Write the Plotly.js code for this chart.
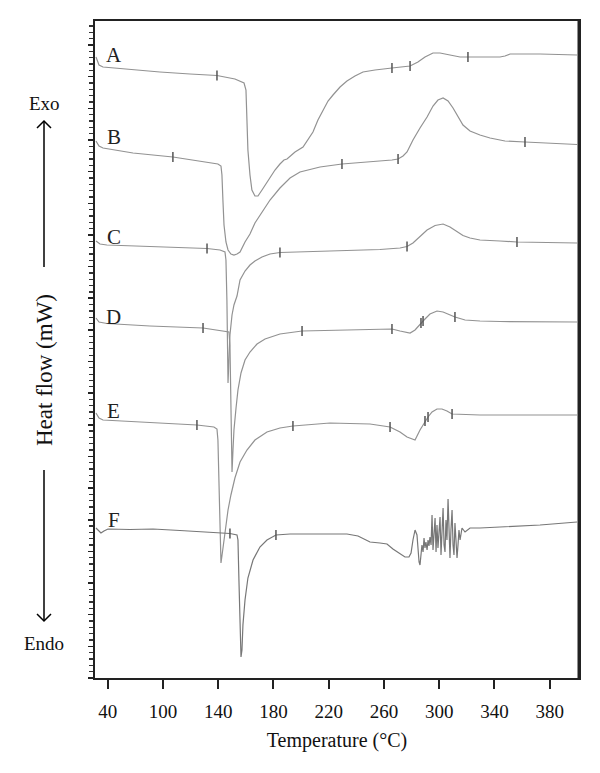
<!DOCTYPE html>
<html>
<head>
<meta charset="utf-8">
<script src="https://cdn.plot.ly/plotly-3.0.1.min.js"></script>
<style>html,body{margin:0;padding:0;background:#fff;}#chart{width:600px;height:773px;}</style>
</head>
<body>
<div id="chart"></div>
<script>
// Temperature (°C) and heat flow (arbitrary, offset per curve)
const tempA = [51.5,53.7,56.6,78.3,97.8,119.6,139.1,152.1,158.7,160.1,160.8,161.5,163.0,164.4,166.6,168.8,171.7,175.3,177.5,181.1,184.7,187.6,189.8,192.0,195.6,201.4,205.0,208.6,212.2,215.9,219.5,223.1,228.2,233.2,239.0,244.8,253.5,265.8,275.2,278.9,284.6,289.7,295.5,300.6,307.8,315.1,322.3,344.0,347.6,351.3,373.0,399.8];
const flowA = [62.1,61.3,61.1,60.8,60.6,60.4,60.25,59.9,59.5,58.8,55.8,52.8,50.3,48.8,48.2,48.2,48.8,49.6,50.1,50.8,51.4,51.8,51.9,52.2,52.6,53.1,53.8,54.6,55.8,56.8,57.7,58.3,59.1,59.7,60.2,60.6,60.8,61.0,61.1,61.2,61.6,62.1,62.5,62.5,62.3,62.1,62.1,62.1,62.2,62.4,62.4,62.3];

const tempB = [51.5,53.7,56.6,78.3,107.2,126.8,139.8,142.0,142.7,143.4,144.2,145.6,147.1,149.2,151.4,153.6,155.8,159.4,163.0,166.6,170.2,173.9,177.5,184.7,192.0,199.2,213.7,229.6,249.9,265.8,270.2,273.8,276.7,281.0,286.1,291.2,295.5,299.1,302.8,306.4,310.0,313.6,317.2,322.3,329.5,336.8,347.6,362.1,380.2,399.8];
const flowB = [53.7,53.2,53.0,52.5,52.1,51.7,51.4,51.2,50.3,47.8,45.3,43.6,42.8,42.4,42.3,42.4,42.6,43.6,44.4,45.5,46.3,47.1,47.8,49.0,50.0,50.6,51.1,51.4,51.6,51.8,51.9,52.2,52.6,53.8,55.0,56.1,57.2,57.8,58.0,57.7,57.0,56.1,55.3,54.7,54.3,54.0,53.7,53.6,53.45,53.35];

const tempC = [51.5,54.4,59.4,90.6,131.9,141.3,144.9,145.6,146.3,147.1,147.8,148.5,150.0,151.4,153.6,155.8,159.4,163.0,166.6,171.7,177.5,184.7,220.9,257.1,271.6,276.7,281.0,286.1,291.2,297.0,302.8,307.8,312.9,317.2,322.3,329.5,344.0,356.3,399.8];
const flowC = [43.7,43.4,43.3,43.15,42.95,42.8,42.6,41.8,37.8,29.5,31.8,34.3,36.3,37.3,38.2,39.8,40.7,41.3,41.7,42.1,42.4,42.55,42.7,42.85,43.0,43.15,43.5,44.2,44.8,45.25,45.4,45.1,44.6,44.25,44.0,43.8,43.7,43.6,43.5];

const tempD = [51.5,53.7,59.4,90.6,129.0,142.7,147.8,148.5,149.2,150.0,150.7,151.4,152.9,154.3,156.5,159.4,163.0,168.1,173.9,184.7,200.7,228.2,265.8,271.6,278.9,282.5,286.1,289.0,293.3,298.4,302.8,307.8,311.4,318.7,329.5,344.0,399.8];
const flowD = [36.0,35.6,35.45,35.2,35.0,34.75,34.6,33.3,27.8,20.6,22.8,24.8,27.0,28.8,30.5,31.8,32.6,33.4,33.9,34.4,34.7,34.8,34.9,34.7,34.5,34.8,35.4,35.8,36.4,36.7,36.6,36.3,36.1,35.8,35.7,35.65,35.6];

const tempE = [51.5,53.7,56.6,90.6,124.6,136.9,139.1,139.8,140.6,141.3,142.0,142.7,144.9,147.1,149.2,152.1,155.8,160.8,166.6,175.3,184.7,194.1,220.9,249.9,264.4,271.6,276.7,282.5,286.1,289.7,291.9,294.8,298.4,302.0,305.6,309.3,315.1,329.5,399.8];
const flowE = [26.5,26.0,25.8,25.55,25.3,25.1,24.9,23.8,18.8,13.8,11.5,12.2,14.8,16.8,18.3,20.0,21.6,22.8,23.8,24.6,25.0,25.2,25.5,25.4,25.1,24.6,24.1,23.8,24.8,25.7,26.1,26.6,26.9,26.9,26.7,26.4,26.35,26.3,26.3];

const tempF = [51.5,52.9,55.1,57.3,60.2,76.1,92.8,112.3,134.0,148.5,153.6,154.3,155.0,155.8,156.5,157.2,157.9,159.4,161.5,165.2,170.2,175.3,181.8,192.0,233.2,241.2,249.9,257.1,262.2,266.5,271.6,275.2,278.1,279.6,281.0,282.5,283.9,284.6,285.4,
  286.1,286.8,287.5,288.3,289.0,289.7,290.4,291.2,291.9,292.6,293.3,294.1,294.8,295.5,296.2,297.0,297.7,298.4,299.1,299.9,300.6,301.3,302.0,302.8,303.5,304.2,304.9,305.6,306.4,307.1,307.8,308.5,309.3,310.0,310.7,311.4,312.2,312.9,313.6,314.3,315.1,316.5,318.7,322.3,329.5,344.0,373.0,399.8];
const flowF = [15.0,14.8,14.5,14.7,14.9,14.85,14.9,14.75,14.6,14.45,14.3,13.8,9.8,4.8,2.1,2.8,5.3,7.8,10.0,11.8,13.1,13.8,14.3,14.4,14.4,14.2,13.6,13.5,13.4,12.9,12.4,12.1,12.1,12.5,13.8,14.8,14.3,12.8,11.6,
  11.3,12.3,13.3,12.6,14.0,13.0,13.6,12.8,13.8,13.2,14.1,13.3,16.3,12.8,14.8,16.0,12.6,15.3,13.0,14.8,16.1,12.3,15.3,17.0,13.3,12.6,15.8,13.8,17.9,13.3,12.0,14.8,16.8,13.3,12.3,15.5,13.8,12.0,13.3,14.8,13.8,15.0,14.6,15.0,15.0,15.1,15.3,15.6];

// analysis marks on the curves
const markTemp = [139.1,265.8,278.9,320.8, 107.2,229.6,270.2,362.1, 131.9,184.7,276.7,356.3, 129.0,200.7,265.8,286.8,288.3,311.4, 124.6,194.1,264.4,289.7,291.9,309.3, 148.5,181.8];
const markFlow = [60.25,61.0,61.2,62.1, 52.1,51.4,51.9,53.6, 42.95,42.55,43.15,43.6, 35.0,34.7,34.9,35.5,35.7,36.1, 25.3,25.2,25.1,25.7,26.1,26.4, 14.45,14.3];

const curveNames = ["A","B","C","D","E","F"];
const labelTemp = [64.5,64.5,64.5,64.5,64.5,64.5];
const labelFlow = [62.3,54.1,44.1,36.1,26.7,15.8];

const tickVals = [60,100,140,180,220,260,300,340,380];
const tickText = ["40","100","140","180","220","260","300","340","380"];

const serif = "Liberation Serif, Times New Roman, serif";
const lineColor = "#929292";

const temps = [tempA,tempB,tempC,tempD,tempE,tempF];
const flows = [flowA,flowB,flowC,flowD,flowE,flowF];
const traces = temps.map((t,i)=>({
  x: t, y: flows[i], type: "scatter", mode: "lines", name: curveNames[i],
  line: {color: i===5 ? "#777" : lineColor, width: 1.2},
  hoverinfo: "skip"
}));
traces.push({
  x: markTemp, y: markFlow, type: "scatter", mode: "markers",
  marker: {symbol: "line-ns-open", size: 7, color: "#555", line: {color: "#555", width: 1.5}},
  hoverinfo: "skip"
});

const px = v => (v - 95) / 484;        // helper for paper coordinates (outer decorations)
const py = v => (678 - v) / 657;

const annotations = curveNames.map((n,i)=>({
  x: labelTemp[i], y: labelFlow[i], xref: "x", yref: "y", text: n, showarrow: false,
  font: {family: serif, size: 21, color: "#222"}, xanchor: "center", yanchor: "middle"
}));
annotations.push(
  {x: px(44), y: py(103), xref: "paper", yref: "paper", text: "Exo", showarrow: false,
   font: {family: serif, size: 19, color: "#111"}, xanchor: "center", yanchor: "middle"},
  {x: px(44), y: py(643), xref: "paper", yref: "paper", text: "Endo", showarrow: false,
   font: {family: serif, size: 19, color: "#111"}, xanchor: "center", yanchor: "middle"},
  {x: px(44), y: py(370), xref: "paper", yref: "paper", text: "Heat flow (mW)", showarrow: false,
   textangle: -90, font: {family: serif, size: 23, color: "#111"}, xanchor: "center", yanchor: "middle"}
);

const shapes = [
  {type: "line", xref: "paper", yref: "paper", x0: px(44), x1: px(44), y0: py(267), y1: py(121), line: {color: "#000", width: 1.5}},
  {type: "path", xref: "paper", yref: "paper", path: `M ${px(37)} ${py(128)} L ${px(44)} ${py(121)} L ${px(51)} ${py(128)}`, line: {color: "#000", width: 1.5}},
  {type: "line", xref: "paper", yref: "paper", x0: px(44), x1: px(44), y0: py(470), y1: py(621), line: {color: "#000", width: 1.5}},
  {type: "path", xref: "paper", yref: "paper", path: `M ${px(37)} ${py(614)} L ${px(44)} ${py(621)} L ${px(51)} ${py(614)}`, line: {color: "#000", width: 1.5}},
  {type: "line", xref: "paper", yref: "paper", x0: 1, x1: 1, y0: 0, y1: 1, line: {color: "#222", width: 3}}
];

const layout = {
  width: 600, height: 773,
  margin: {l: 95, r: 21, t: 21, b: 95},
  paper_bgcolor: "#fff", plot_bgcolor: "#fff",
  showlegend: false,
  xaxis: {
    range: [50.8, 401.2], showgrid: false, zeroline: false,
    showline: true, linecolor: "#222", linewidth: 2, mirror: true,
    ticks: "outside", ticklen: 9, tickwidth: 2, tickcolor: "#222",
    tickmode: "array", tickvals: tickVals, ticktext: tickText,
    ticklabelstandoff: 6,
    tickfont: {family: serif, size: 19, color: "#111"},
    title: {text: "Temperature (°C)", font: {family: serif, size: 20, color: "#111"}, standoff: 12}
  },
  yaxis: {
    range: [0, 65.7], showgrid: false, zeroline: false,
    showline: true, linecolor: "#222", linewidth: 2, mirror: true,
    ticks: "outside", ticklen: 5, tickwidth: 1.5, tickcolor: "#222",
    tick0: 0, dtick: 3.165, showticklabels: false,
    minor: {ticks: "outside", dtick: 0.633, ticklen: 4, tickwidth: 1.3, tickcolor: "#333"}
  },
  annotations: annotations,
  shapes: shapes
};

Plotly.newPlot("chart", traces, layout, {staticPlot: true, displayModeBar: false});
</script>
</body>
</html>
